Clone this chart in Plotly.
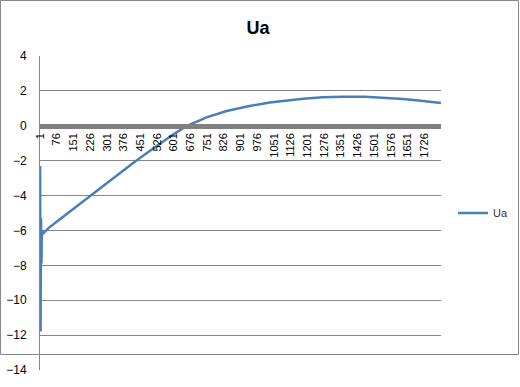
import plotly.graph_objects as go

# Category index (x) and values (y)
cat_index = [1, 3, 5, 7, 9, 13, 40, 81, 125, 171, 215, 260, 305, 350, 420, 485,
             539, 598, 658, 748, 838, 935, 1032, 1107, 1182, 1270, 1361, 1460,
             1556, 1630, 1700, 1800]
ua_values = [-2.3, -11.8, -5.3, -7.9, -6.0, -6.2, -5.85, -5.45, -5.02, -4.57, -4.12,
             -3.67, -3.22, -2.8, -2.12, -1.52, -1.02, -0.5, -0.02, 0.48, 0.85, 1.12,
             1.34, 1.46, 1.55, 1.63, 1.67, 1.66, 1.6, 1.53, 1.45, 1.3]
n_categories = 1800
tick_labels = list(range(1, 1727, 75))
y_ticks = list(range(-14, 5, 2))

fig = go.Figure()
fig.add_trace(go.Scatter(
    x=cat_index, y=ua_values, mode="lines", name="Ua",
    line=dict(color="#4A7EBB", width=2.5),
))

L, R, T, B = 40, 79, 56, 17
W, H = 520, 387
pw, ph = W - L - R, H - T - B

fig.update_layout(
    width=W, height=H,
    margin=dict(l=L, r=R, t=T, b=B, autoexpand=False),
    paper_bgcolor="white", plot_bgcolor="white",
    font=dict(family="Liberation Sans, Arial, sans-serif", color="#000000", size=11),
    title=dict(text="<b>Ua</b>", font=dict(size=18, color="#000000"),
               x=258 / W, xref="container", xanchor="center",
               y=1 - 28 / H, yref="container", yanchor="middle"),
    showlegend=True,
    legend=dict(x=(453 - L) / pw, xanchor="left", y=(H - B - 213) / ph, yanchor="middle",
                font=dict(size=11, color="#333333"), bgcolor="rgba(0,0,0,0)"),
    xaxis=dict(
        range=[0.5, n_categories + 0.5],
        tickmode="array", tickvals=tick_labels, ticktext=[str(t) for t in tick_labels],
        tickangle=-90, tickfont=dict(size=11),
        showgrid=False, zeroline=False,
        showline=True, linecolor="#808080", linewidth=5,
        anchor="free", position=14 / 18, ticks="",
    ),
    yaxis=dict(
        range=[-14, 4], tickmode="array", tickvals=y_ticks,
        tickfont=dict(size=12),
        showgrid=True, gridcolor="#868686", gridwidth=1,
        zeroline=False, showline=True, linecolor="#868686", linewidth=1,
        ticks="", ticklabelstandoff=10,
    ),
    shapes=[dict(type="rect", xref="paper", yref="paper",
                 x0=(0.5 - L) / pw, x1=(W - 1.5 - L) / pw,
                 y0=(B - 1.5) / ph, y1=1 + (T - 0.5) / ph,
                 line=dict(color="#868686", width=1), fillcolor="rgba(0,0,0,0)")],
)

fig.write_html("out.html", config={"displayModeBar": False},
               post_script="document.body.style.margin='0';")
